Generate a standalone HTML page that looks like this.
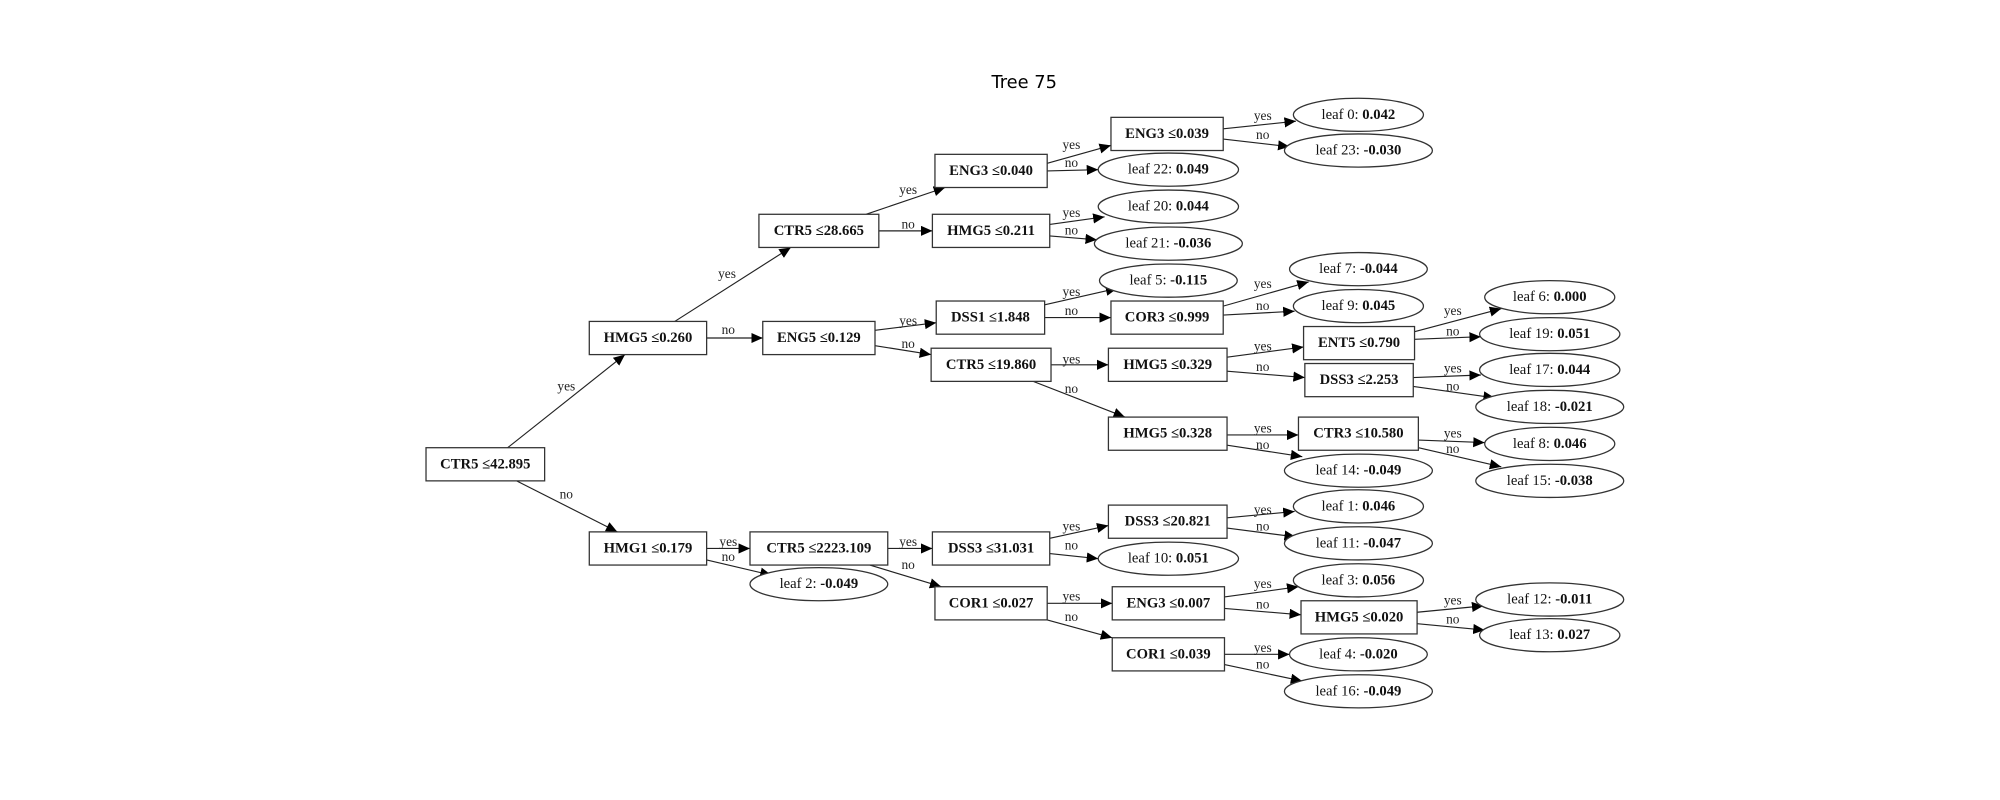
<!DOCTYPE html>
<html><head><meta charset="utf-8"><style>
html,body{margin:0;padding:0;background:#fff;width:2000px;height:800px;overflow:hidden}
svg{display:block}
.n{fill:#fff;stroke:#333;stroke-width:1}
.t{font-family:"Liberation Serif",serif;font-size:11.5px;text-anchor:middle;dominant-baseline:central;fill:#111}
.b{font-weight:bold}
.e{stroke:#222;stroke-width:0.9;fill:none;marker-end:url(#a)}
.l{font-family:"Liberation Serif",serif;font-size:10.5px;text-anchor:middle;fill:#222}
</style></head><body>
<svg width="2000" height="800" viewBox="0 0 1568 627.2" preserveAspectRatio="none" xmlns="http://www.w3.org/2000/svg">
<defs><marker id="a" markerUnits="userSpaceOnUse" markerWidth="10" markerHeight="8" refX="9" refY="4" orient="auto"><path d="M0,0 L9,4 L0,8 z" fill="#000"/></marker></defs>
<text x="803" y="69" style="font-family:'DejaVu Sans','Liberation Sans',sans-serif;font-size:14px;text-anchor:middle">Tree 75</text>

<g>
<line class="e" x1="398" y1="351" x2="490" y2="278"/><text class="l" x="444" y="306">yes</text>
<line class="e" x1="405" y1="377" x2="484" y2="417"/><text class="l" x="444" y="391">no</text>
<line class="e" x1="529" y1="252" x2="620" y2="194"/><text class="l" x="570" y="218">yes</text>
<line class="e" x1="554" y1="265" x2="598" y2="265"/><text class="l" x="571" y="262">no</text>
<line class="e" x1="679" y1="168" x2="741" y2="147"/><text class="l" x="712" y="152">yes</text>
<line class="e" x1="689" y1="181" x2="731" y2="181"/><text class="l" x="712" y="179">no</text>
<line class="e" x1="821" y1="128" x2="871" y2="114"/><text class="l" x="840" y="117">yes</text>
<line class="e" x1="821" y1="134" x2="861" y2="133"/><text class="l" x="840" y="131">no</text>
<line class="e" x1="959" y1="101" x2="1016" y2="95"/><text class="l" x="990" y="94">yes</text>
<line class="e" x1="959" y1="109" x2="1011" y2="115"/><text class="l" x="990" y="109">no</text>
<line class="e" x1="823" y1="176" x2="866" y2="170"/><text class="l" x="840" y="170">yes</text>
<line class="e" x1="823" y1="185" x2="860" y2="188"/><text class="l" x="840" y="184">no</text>
<line class="e" x1="686" y1="259" x2="734" y2="253"/><text class="l" x="712" y="255">yes</text>
<line class="e" x1="686" y1="271" x2="730" y2="278"/><text class="l" x="712" y="273">no</text>
<line class="e" x1="819" y1="239" x2="876" y2="226"/><text class="l" x="840" y="232">yes</text>
<line class="e" x1="819" y1="249" x2="871" y2="249"/><text class="l" x="840" y="247">no</text>
<line class="e" x1="959" y1="240" x2="1026" y2="221"/><text class="l" x="990" y="226">yes</text>
<line class="e" x1="959" y1="247" x2="1015" y2="244"/><text class="l" x="990" y="243">no</text>
<line class="e" x1="824" y1="286" x2="869" y2="286"/><text class="l" x="840" y="285">yes</text>
<line class="e" x1="810" y1="299" x2="882" y2="327"/><text class="l" x="840" y="308">no</text>
<line class="e" x1="962" y1="280" x2="1022" y2="272"/><text class="l" x="990" y="275">yes</text>
<line class="e" x1="962" y1="291" x2="1023" y2="296"/><text class="l" x="990" y="291">no</text>
<line class="e" x1="1109" y1="260" x2="1177" y2="242"/><text class="l" x="1139" y="247">yes</text>
<line class="e" x1="1109" y1="266" x2="1161" y2="264"/><text class="l" x="1139" y="263">no</text>
<line class="e" x1="1108" y1="296" x2="1161" y2="294"/><text class="l" x="1139" y="292">yes</text>
<line class="e" x1="1108" y1="303" x2="1172" y2="312"/><text class="l" x="1139" y="306">no</text>
<line class="e" x1="962" y1="341" x2="1018" y2="341"/><text class="l" x="990" y="339">yes</text>
<line class="e" x1="962" y1="349" x2="1021" y2="358"/><text class="l" x="990" y="352">no</text>
<line class="e" x1="1112" y1="345" x2="1164" y2="347"/><text class="l" x="1139" y="343">yes</text>
<line class="e" x1="1112" y1="351" x2="1177" y2="366"/><text class="l" x="1139" y="355">no</text>
<line class="e" x1="554" y1="430" x2="588" y2="430"/><text class="l" x="571" y="428">yes</text>
<line class="e" x1="554" y1="439" x2="605" y2="451"/><text class="l" x="571" y="440">no</text>
<line class="e" x1="696" y1="430" x2="731" y2="430"/><text class="l" x="712" y="428">yes</text>
<line class="e" x1="682" y1="443" x2="738" y2="460"/><text class="l" x="712" y="446">no</text>
<line class="e" x1="823" y1="422" x2="869" y2="412"/><text class="l" x="840" y="416">yes</text>
<line class="e" x1="823" y1="434" x2="861" y2="438"/><text class="l" x="840" y="431">no</text>
<line class="e" x1="962" y1="406" x2="1015" y2="401"/><text class="l" x="990" y="403">yes</text>
<line class="e" x1="962" y1="414" x2="1016" y2="421"/><text class="l" x="990" y="416">no</text>
<line class="e" x1="821" y1="473" x2="872" y2="473"/><text class="l" x="840" y="471">yes</text>
<line class="e" x1="821" y1="486" x2="872" y2="500"/><text class="l" x="840" y="487">no</text>
<line class="e" x1="960" y1="468" x2="1018" y2="460"/><text class="l" x="990" y="461">yes</text>
<line class="e" x1="960" y1="477" x2="1020" y2="482"/><text class="l" x="990" y="477">no</text>
<line class="e" x1="1111" y1="480" x2="1163" y2="475"/><text class="l" x="1139" y="474">yes</text>
<line class="e" x1="1111" y1="489" x2="1164" y2="494"/><text class="l" x="1139" y="489">no</text>
<line class="e" x1="960" y1="513" x2="1011" y2="513"/><text class="l" x="990" y="511">yes</text>
<line class="e" x1="960" y1="521" x2="1021" y2="534"/><text class="l" x="990" y="524">no</text>
</g>

<g>
<rect class="n" x="334" y="351" width="93" height="26"/><text class="t b" x="380.5" y="364">CTR5 ≤42.895</text>
<rect class="n" x="462" y="252" width="92" height="26"/><text class="t b" x="508" y="265">HMG5 ≤0.260</text>
<rect class="n" x="595" y="168" width="94" height="26"/><text class="t b" x="642" y="181">CTR5 ≤28.665</text>
<rect class="n" x="733" y="121" width="88" height="26"/><text class="t b" x="777" y="134">ENG3 ≤0.040</text>
<rect class="n" x="871" y="92" width="88" height="26"/><text class="t b" x="915" y="105">ENG3 ≤0.039</text>
<rect class="n" x="731" y="168" width="92" height="26"/><text class="t b" x="777" y="181">HMG5 ≤0.211</text>
<rect class="n" x="598" y="252" width="88" height="26"/><text class="t b" x="642" y="265">ENG5 ≤0.129</text>
<rect class="n" x="734" y="236" width="85" height="26"/><text class="t b" x="776.5" y="249">DSS1 ≤1.848</text>
<rect class="n" x="730" y="273" width="94" height="26"/><text class="t b" x="777" y="286">CTR5 ≤19.860</text>
<rect class="n" x="871" y="236" width="88" height="26"/><text class="t b" x="915" y="249">COR3 ≤0.999</text>
<rect class="n" x="869" y="273" width="93" height="26"/><text class="t b" x="915.5" y="286">HMG5 ≤0.329</text>
<rect class="n" x="1022" y="256" width="87" height="26"/><text class="t b" x="1065.5" y="269">ENT5 ≤0.790</text>
<rect class="n" x="1023" y="285" width="85" height="26"/><text class="t b" x="1065.5" y="298">DSS3 ≤2.253</text>
<rect class="n" x="869" y="327" width="93" height="26"/><text class="t b" x="915.5" y="340">HMG5 ≤0.328</text>
<rect class="n" x="1018" y="327" width="94" height="26"/><text class="t b" x="1065" y="340">CTR3 ≤10.580</text>
<rect class="n" x="462" y="417" width="92" height="26"/><text class="t b" x="508" y="430">HMG1 ≤0.179</text>
<rect class="n" x="588" y="417" width="108" height="26"/><text class="t b" x="642" y="430">CTR5 ≤2223.109</text>
<rect class="n" x="731" y="417" width="92" height="26"/><text class="t b" x="777" y="430">DSS3 ≤31.031</text>
<rect class="n" x="869" y="396" width="93" height="26"/><text class="t b" x="915.5" y="409">DSS3 ≤20.821</text>
<rect class="n" x="733" y="460" width="88" height="26"/><text class="t b" x="777" y="473">COR1 ≤0.027</text>
<rect class="n" x="872" y="460" width="88" height="26"/><text class="t b" x="916" y="473">ENG3 ≤0.007</text>
<rect class="n" x="1020" y="471" width="91" height="26"/><text class="t b" x="1065.5" y="484">HMG5 ≤0.020</text>
<rect class="n" x="872" y="500" width="88" height="26"/><text class="t b" x="916" y="513">COR1 ≤0.039</text>
</g>

<g>
<ellipse class="n" cx="1065" cy="90" rx="51" ry="13"/><text class="t" x="1065" y="90">leaf 0: <tspan class="b">0.042</tspan></text>
<ellipse class="n" cx="1065" cy="118" rx="58" ry="13"/><text class="t" x="1065" y="118">leaf 23: <tspan class="b">-0.030</tspan></text>
<ellipse class="n" cx="916" cy="133" rx="55" ry="13"/><text class="t" x="916" y="133">leaf 22: <tspan class="b">0.049</tspan></text>
<ellipse class="n" cx="916" cy="162" rx="55" ry="13"/><text class="t" x="916" y="162">leaf 20: <tspan class="b">0.044</tspan></text>
<ellipse class="n" cx="916" cy="191" rx="58" ry="13"/><text class="t" x="916" y="191">leaf 21: <tspan class="b">-0.036</tspan></text>
<ellipse class="n" cx="916" cy="220" rx="54" ry="13"/><text class="t" x="916" y="220">leaf 5: <tspan class="b">-0.115</tspan></text>
<ellipse class="n" cx="1065" cy="211" rx="54" ry="13"/><text class="t" x="1065" y="211">leaf 7: <tspan class="b">-0.044</tspan></text>
<ellipse class="n" cx="1065" cy="240" rx="51" ry="13"/><text class="t" x="1065" y="240">leaf 9: <tspan class="b">0.045</tspan></text>
<ellipse class="n" cx="1215" cy="233" rx="51" ry="13"/><text class="t" x="1215" y="233">leaf 6: <tspan class="b">0.000</tspan></text>
<ellipse class="n" cx="1215" cy="262" rx="55" ry="13"/><text class="t" x="1215" y="262">leaf 19: <tspan class="b">0.051</tspan></text>
<ellipse class="n" cx="1215" cy="290" rx="55" ry="13"/><text class="t" x="1215" y="290">leaf 17: <tspan class="b">0.044</tspan></text>
<ellipse class="n" cx="1215" cy="319" rx="58" ry="13"/><text class="t" x="1215" y="319">leaf 18: <tspan class="b">-0.021</tspan></text>
<ellipse class="n" cx="1215" cy="348" rx="51" ry="13"/><text class="t" x="1215" y="348">leaf 8: <tspan class="b">0.046</tspan></text>
<ellipse class="n" cx="1215" cy="377" rx="58" ry="13"/><text class="t" x="1215" y="377">leaf 15: <tspan class="b">-0.038</tspan></text>
<ellipse class="n" cx="1065" cy="369" rx="58" ry="13"/><text class="t" x="1065" y="369">leaf 14: <tspan class="b">-0.049</tspan></text>
<ellipse class="n" cx="1065" cy="397" rx="51" ry="13"/><text class="t" x="1065" y="397">leaf 1: <tspan class="b">0.046</tspan></text>
<ellipse class="n" cx="1065" cy="426" rx="58" ry="13"/><text class="t" x="1065" y="426">leaf 11: <tspan class="b">-0.047</tspan></text>
<ellipse class="n" cx="916" cy="438" rx="55" ry="13"/><text class="t" x="916" y="438">leaf 10: <tspan class="b">0.051</tspan></text>
<ellipse class="n" cx="642" cy="458" rx="54" ry="13"/><text class="t" x="642" y="458">leaf 2: <tspan class="b">-0.049</tspan></text>
<ellipse class="n" cx="1065" cy="455" rx="51" ry="13"/><text class="t" x="1065" y="455">leaf 3: <tspan class="b">0.056</tspan></text>
<ellipse class="n" cx="1215" cy="470" rx="58" ry="13"/><text class="t" x="1215" y="470">leaf 12: <tspan class="b">-0.011</tspan></text>
<ellipse class="n" cx="1215" cy="498" rx="55" ry="13"/><text class="t" x="1215" y="498">leaf 13: <tspan class="b">0.027</tspan></text>
<ellipse class="n" cx="1065" cy="513" rx="54" ry="13"/><text class="t" x="1065" y="513">leaf 4: <tspan class="b">-0.020</tspan></text>
<ellipse class="n" cx="1065" cy="542" rx="58" ry="13"/><text class="t" x="1065" y="542">leaf 16: <tspan class="b">-0.049</tspan></text>
</g>
</svg>
</body></html>
